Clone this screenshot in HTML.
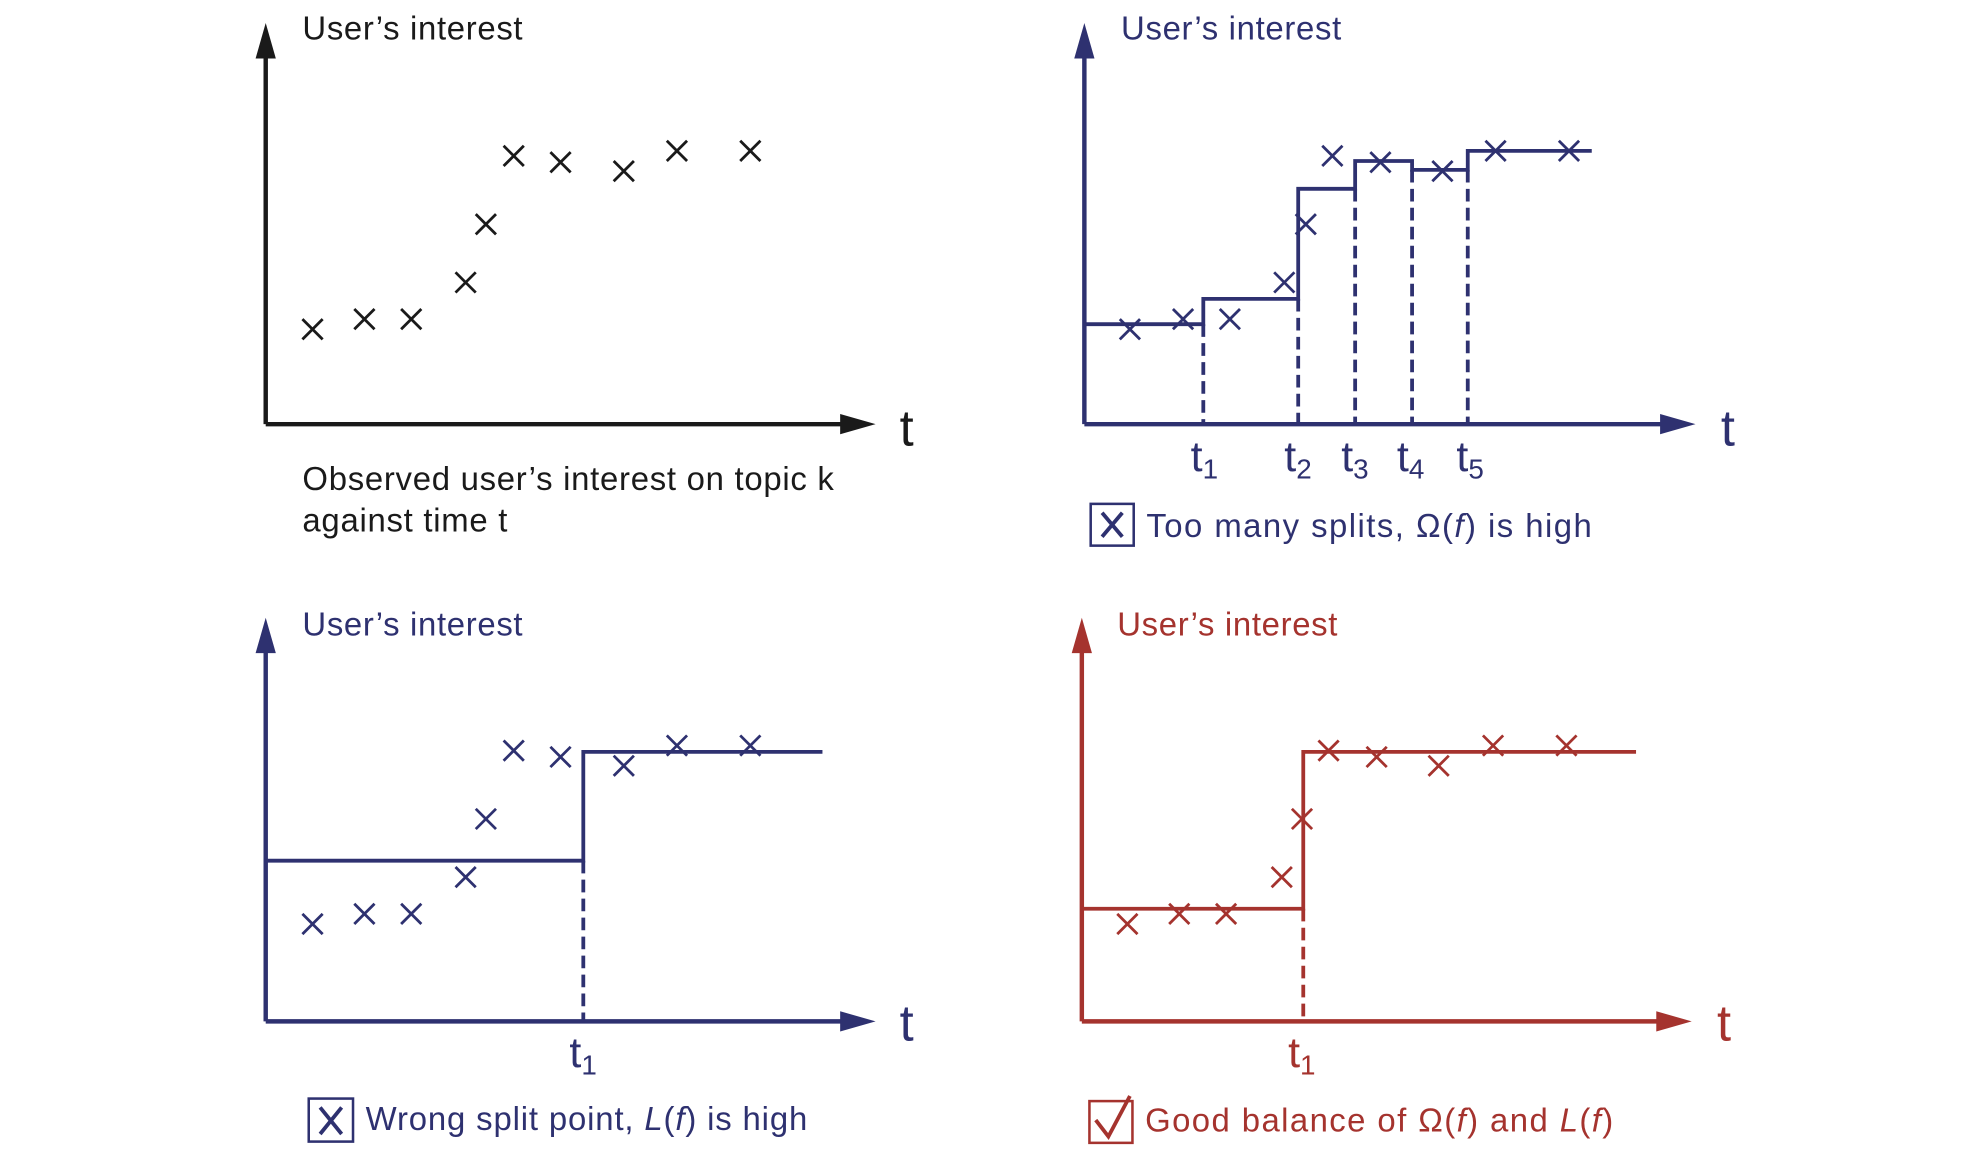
<!DOCTYPE html>
<html><head><meta charset="utf-8"><style>html,body{margin:0;padding:0;background:#fff}svg{display:block}</style></head>
<body>
<svg width="1984" height="1152" viewBox="0 0 1568 910" xmlns="http://www.w3.org/2000/svg" font-family="Liberation Sans, Arial, sans-serif">
<defs>
<g id="x"><path d="M-8,-8L8,8M8,-8L-8,8" stroke-width="2.2" fill="none"/></g>
</defs>
<!-- Top-left (black) -->
<g stroke="#1a1a1a" fill="#1a1a1a">
<path d="M210,335V40M210,335H670" stroke-width="3.5" fill="none"/>
<path d="M202,46L210,18L218,46Z" stroke="none"/>
<path d="M664,327L692,335L664,343Z" stroke="none"/>
<g stroke-width="2.2" fill="none">
<use href="#x" x="247" y="260"/><use href="#x" x="288" y="252"/><use href="#x" x="325" y="252"/><use href="#x" x="368" y="223"/><use href="#x" x="384" y="177"/><use href="#x" x="406" y="123"/><use href="#x" x="443" y="128"/><use href="#x" x="493" y="135"/><use href="#x" x="535" y="119"/><use href="#x" x="593" y="119"/>
</g>
<g stroke="none">
<text x="239" y="31" font-size="26" textLength="174">User’s interest</text>
<text x="711" y="352" font-size="40">t</text>
<text x="239" y="387" font-size="26" textLength="420">Observed user’s interest on topic k</text>
<text x="239" y="420" font-size="26" textLength="162">against time t</text>
</g>
</g>
<!-- Top-right (navy) -->
<g stroke="#2e3170" fill="#2e3170">
<path d="M857,335V40M857,335H1318" stroke-width="3.5" fill="none"/>
<path d="M849,46L857,18L865,46Z" stroke="none"/>
<path d="M1312,327L1340,335L1312,343Z" stroke="none"/>
<path d="M857,256H951V236H1026V149H1071V127H1116V134H1160V119H1258" stroke-width="3" fill="none"/>
<path d="M951,256V335M1026,236V335M1071,149V335M1116,134V335M1160,134V335" stroke-width="3" stroke-dasharray="10,5" fill="none"/>
<g stroke-width="2.2" fill="none">
<use href="#x" x="893" y="260"/><use href="#x" x="935" y="252"/><use href="#x" x="972" y="252"/><use href="#x" x="1015" y="223"/><use href="#x" x="1032" y="177"/><use href="#x" x="1053" y="123"/><use href="#x" x="1091" y="128"/><use href="#x" x="1140" y="135"/><use href="#x" x="1182" y="119"/><use href="#x" x="1240" y="119"/>
</g>
<g stroke="none" font-size="34">
<text x="886" y="31" font-size="26" textLength="174">User’s interest</text>
<text x="1360" y="352" font-size="40">t</text>
<text x="941" y="372">t<tspan font-size="22" dy="6">1</tspan></text>
<text x="1015" y="372">t<tspan font-size="22" dy="6">2</tspan></text>
<text x="1060" y="372">t<tspan font-size="22" dy="6">3</tspan></text>
<text x="1104" y="372">t<tspan font-size="22" dy="6">4</tspan></text>
<text x="1151" y="372">t<tspan font-size="22" dy="6">5</tspan></text>
<text x="906" y="424" font-size="26" textLength="352">Too many splits, Ω(<tspan font-style="italic">f</tspan>)  is high</text>
</g>
<rect x="862" y="398" width="34" height="33" fill="none" stroke-width="2"/>
<path d="M871,405L887,424M887,405L871,424" stroke-width="3" fill="none"/>
</g>
<!-- Bottom-left (navy) -->
<g stroke="#2e3170" fill="#2e3170">
<path d="M210,807V510M210,807H670" stroke-width="3.5" fill="none"/>
<path d="M202,516L210,488L218,516Z" stroke="none"/>
<path d="M664,799L692,807L664,815Z" stroke="none"/>
<path d="M210,680H461V594H650" stroke-width="3" fill="none"/>
<path d="M461,680V807" stroke-width="3" stroke-dasharray="10,5" fill="none"/>
<g stroke-width="2.2" fill="none">
<use href="#x" x="247" y="730"/><use href="#x" x="288" y="722"/><use href="#x" x="325" y="722"/><use href="#x" x="368" y="693"/><use href="#x" x="384" y="647"/><use href="#x" x="406" y="593"/><use href="#x" x="443" y="598"/><use href="#x" x="493" y="605"/><use href="#x" x="535" y="589"/><use href="#x" x="593" y="589"/>
</g>
<g stroke="none" font-size="34">
<text x="239" y="502" font-size="26" textLength="174">User’s interest</text>
<text x="711" y="822" font-size="40">t</text>
<text x="450" y="843">t<tspan font-size="22" dy="6">1</tspan></text>
<text x="289" y="893" font-size="26" textLength="349">Wrong split point, <tspan font-style="italic">L</tspan>(<tspan font-style="italic">f</tspan>) is high</text>
</g>
<rect x="244" y="868" width="35" height="34" fill="none" stroke-width="2"/>
<path d="M253,875L270,896M270,875L253,896" stroke-width="3" fill="none"/>
</g>
<!-- Bottom-right (red) -->
<g stroke="#a5332e" fill="#a5332e">
<path d="M855,807V510M855,807H1315" stroke-width="3.5" fill="none"/>
<path d="M847,516L855,488L863,516Z" stroke="none"/>
<path d="M1309,799L1337,807L1309,815Z" stroke="none"/>
<path d="M855,718H1030V594H1293" stroke-width="3" fill="none"/>
<path d="M1030,718V807" stroke-width="3" stroke-dasharray="10,5" fill="none"/>
<g stroke-width="2.2" fill="none">
<use href="#x" x="891" y="730"/><use href="#x" x="932" y="722"/><use href="#x" x="969" y="722"/><use href="#x" x="1013" y="693"/><use href="#x" x="1029" y="647"/><use href="#x" x="1050" y="593"/><use href="#x" x="1088" y="598"/><use href="#x" x="1137" y="605"/><use href="#x" x="1180" y="589"/><use href="#x" x="1238" y="589"/>
</g>
<g stroke="none" font-size="34">
<text x="883" y="502" font-size="26" textLength="174">User’s interest</text>
<text x="1357" y="822" font-size="40">t</text>
<text x="1018" y="843">t<tspan font-size="22" dy="6">1</tspan></text>
<text x="905" y="894" font-size="26" textLength="370">Good balance of Ω(<tspan font-style="italic">f</tspan>) and <tspan font-style="italic">L</tspan>(<tspan font-style="italic">f</tspan>)</text>
</g>
<rect x="861" y="870" width="34" height="33" fill="none" stroke-width="2"/>
<path d="M866,885L876,898L893,866" stroke-width="3" fill="none"/>
</g>
</svg>
</body></html>
